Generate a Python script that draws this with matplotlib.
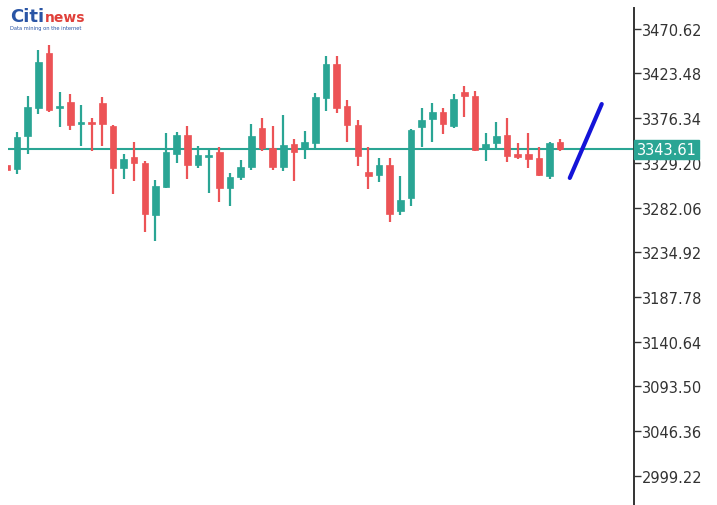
import numpy as np
import matplotlib
matplotlib.use("Agg")
import matplotlib.pyplot as plt

# ---- data ----
opens = [3327.0, 3322.7, 3357.5, 3387.0, 3445.0, 3387.0, 3393.4, 3370.2, 3372.3, 3392.3,
         3368.1, 3323.8, 3335.4, 3329.1, 3274.2, 3303.8, 3338.5, 3358.6, 3327.0, 3335.4,
         3340.7, 3302.7, 3314.3, 3324.8, 3366.0, 3344.9, 3324.8, 3349.1, 3343.8, 3350.1,
         3397.6, 3433.4, 3389.1, 3369.1, 3319.6, 3316.4, 3327.0, 3278.5, 3292.2, 3367.0,
         3375.4, 3382.8, 3368.1, 3403.9, 3399.7, 3343.8, 3350.1, 3358.6, 3338.5, 3338.5,
         3334.3, 3315.4, 3351.2]
highs = [3328.0, 3361.7, 3399.7, 3448.2, 3453.4, 3403.9, 3401.8, 3390.2, 3376.5, 3398.6,
         3369.1, 3338.5, 3351.2, 3331.0, 3311.1, 3360.7, 3361.7, 3368.1, 3347.0, 3344.9,
         3345.9, 3318.5, 3332.2, 3370.2, 3376.5, 3368.1, 3379.7, 3354.4, 3362.8, 3402.8,
         3441.9, 3441.9, 3395.5, 3374.4, 3345.9, 3334.3, 3334.3, 3315.4, 3364.5, 3387.0,
         3392.3, 3387.0, 3401.8, 3410.2, 3405.0, 3360.7, 3372.3, 3376.5, 3350.1, 3360.7,
         3345.9, 3351.2, 3354.4]
lows = [3320.6, 3317.5, 3338.5, 3380.7, 3382.8, 3367.0, 3363.8, 3347.0, 3341.7, 3347.0,
        3296.4, 3312.2, 3310.1, 3256.3, 3246.8, 3303.0, 3329.1, 3312.2, 3323.8, 3297.4,
        3288.0, 3283.7, 3311.1, 3321.7, 3341.7, 3321.7, 3320.6, 3310.1, 3333.3, 3344.9,
        3383.9, 3381.8, 3351.2, 3325.9, 3301.7, 3309.0, 3266.9, 3274.2, 3283.7, 3345.9,
        3351.2, 3359.6, 3366.0, 3377.5, 3341.7, 3331.2, 3342.8, 3330.1, 3333.3, 3323.8,
        3315.4, 3312.2, 3341.7]
closes = [3321.7, 3356.5, 3388.1, 3435.5, 3384.9, 3389.1, 3369.1, 3372.3, 3370.2, 3370.2,
          3323.8, 3333.3, 3329.1, 3275.3, 3304.8, 3340.7, 3358.6, 3327.0, 3337.5, 3337.5,
          3302.7, 3314.3, 3324.8, 3357.5, 3344.9, 3324.8, 3348.0, 3340.7, 3351.2, 3398.6,
          3433.4, 3387.0, 3369.1, 3336.4, 3315.4, 3327.0, 3275.3, 3290.1, 3363.8, 3374.4,
          3382.8, 3370.2, 3396.5, 3399.7, 3342.8, 3349.1, 3357.5, 3336.4, 3335.4, 3333.3,
          3316.4, 3350.1, 3343.61]
last_price = 3343.61
tick_values = [3470.62, 3423.48, 3376.34, 3329.20, 3282.06, 3234.92,
               3187.78, 3140.64, 3093.50, 3046.36, 2999.22]
tick_labels = ["3470.62", "3423.48", "3376.34", "3329.20", "3282.06", "3234.92",
               "3187.78", "3140.64", "3093.50", "3046.36", "2999.22"]
arrow_x = [51.9, 54.9]
arrow_y = [3313.3, 3391.2]

GREEN = "#2aa594"
RED = "#ec5356"

fig = plt.figure(figsize=(7.17, 5.06), dpi=100)
ax = fig.add_axes([8/717, 0.0, 626/717, 497/506])

o = np.array(opens); h = np.array(highs); l = np.array(lows); c = np.array(closes)
x = np.arange(len(o)) - 1
up = c >= o
cols = np.where(up, GREEN, RED)

ax.vlines(x, l, h, colors=cols, linewidth=1.6, zorder=2)
bottoms = np.minimum(o, c)
heights = np.maximum(np.abs(c - o), 1.6)
ax.bar(x, heights, bottom=bottoms, width=0.62, color=cols, edgecolor=cols,
       linewidth=0.5, zorder=3)

ax.axhline(last_price, color=GREEN, linewidth=1.5, zorder=1)

ax.plot(arrow_x, arrow_y, color="#1414d8", linewidth=3.0, solid_capstyle="round", zorder=4)

ax.set_xlim(-0.845, 57.93)
ax.set_ylim(2968.56, 3492.44)

for s in ["top", "left", "bottom"]:
    ax.spines[s].set_visible(False)
ax.spines["right"].set_color("#333333")
ax.spines["right"].set_linewidth(1.4)
ax.set_xticks([])
ax.yaxis.tick_right()
ax.set_yticks(tick_values)
ax.set_yticklabels(tick_labels)
ax.tick_params(axis="y", direction="out", length=5, width=1.0, color="#333333",
               labelsize=10.5, labelcolor="#333333", pad=1)

ax.text(1.004, last_price, "3343.61", transform=ax.get_yaxis_transform(),
        ha="left", va="center", fontsize=10.5, color="white", zorder=10,
        clip_on=False,
        bbox=dict(boxstyle="square,pad=0.15", facecolor=GREEN, edgecolor=GREEN))

# logo
fig.text(10/717, 1 - 22/506, "Citi", fontsize=13, fontweight="bold", color="#2a55a5",
         ha="left", va="baseline")
fig.text(45/717, 1 - 22/506, "news", fontsize=10, fontweight="bold", color="#e0403a",
         ha="left", va="baseline")
fig.text(10/717, 1 - 30/506, "Data mining on the internet", fontsize=3.7, color="#2a55a5",
         ha="left", va="baseline")

fig.savefig("out.png", dpi=100)
